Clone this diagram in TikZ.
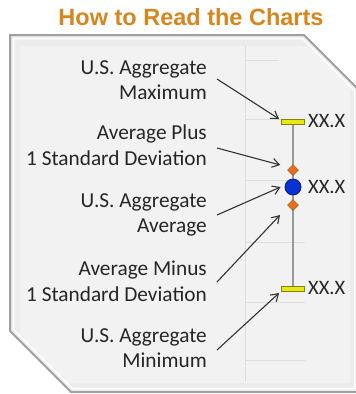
\documentclass[tikz,border=0pt]{standalone}
\usepackage{fontspec}
\setmainfont{Carlito}
\newfontfamily\titlefont{Liberation Sans}
\usetikzlibrary{shapes.geometric,arrows.meta}
\definecolor{titleorange}{RGB}{214,134,30}
\definecolor{panelgray}{RGB}{236,236,236}
\definecolor{plotgray}{RGB}{242,242,242}
\definecolor{bordergray}{RGB}{160,160,160}
\definecolor{gridgray}{RGB}{222,222,222}
\definecolor{baryellow}{RGB}{232,232,20}
\definecolor{barborder}{RGB}{130,130,20}
\definecolor{diaorange}{RGB}{228,110,30}
\definecolor{diaborder}{RGB}{170,80,20}
\definecolor{dotblue}{RGB}{10,50,210}
\definecolor{dotborder}{RGB}{10,30,120}
\tikzset{
  lbl/.style={anchor=east,align=right,inner sep=0pt,font=\fontsize{21.3}{25.5}\selectfont,text=black!85},
  val/.style={anchor=west,inner sep=0pt,font=\fontsize{20.5}{25}\selectfont,text=black!85},
  arr/.style={draw=black!80,line width=1.1pt,-{Straight Barb[length=7pt,width=9pt,line width=1.1pt]}},
  bar/.style={draw=barborder,fill=baryellow,line width=0.8pt,rectangle,minimum width=23pt,minimum height=5.5pt,inner sep=0pt},
  dia/.style={diamond,draw=diaborder,fill=diaorange,line width=0.5pt,minimum width=11pt,minimum height=11pt,inner sep=0pt},
  dot/.style={circle,draw=dotborder,fill=dotblue,line width=0.8pt,minimum size=16pt,inner sep=0pt},
  grid/.style={draw=gridgray,line width=0.8pt}
}
\begin{document}
\begin{tikzpicture}[x=1pt,y=-1pt]
\useasboundingbox (0,0) rectangle (356,394);
% title
\node[font=\titlefont\bfseries\fontsize{23.5}{26}\selectfont,text=titleorange] (title) at (191,17) {How to Read the Charts};
% panel
\fill[panelgray] (10,35) -- (304,35) -- (358,89) -- (358,392) -- (71,392) -- (10,331) -- cycle;
\begin{scope}
\clip (14,39) -- (302,39) -- (354,91) -- (354,388) -- (73,388) -- (14,329) -- cycle;
\fill[plotgray] (20,46) rectangle (350,383);
\end{scope}
\draw[white,line width=1.5pt] (13.5,38.5) -- (302.5,38.5) -- (354.5,90.5) -- (354.5,388.5) -- (72.5,388.5) -- (13.5,329.5) -- cycle;
\draw[bordergray,line width=2pt] (10,35) -- (304,35) -- (358,89) -- (358,392) -- (71,392) -- (10,331) -- cycle;
% grid
\draw[grid] (245,46) -- (245,382);
\draw[grid] (245,60) -- (278,60);
\draw[grid] (245,119) -- (282,119);
\draw[grid] (245,180) -- (293,180);
\draw[grid] (245,242) -- (305,242);
\draw[grid] (245,302) -- (305,302);
\draw[grid] (245,360) -- (305,360);
% axis
\coordinate (axtop) at (293,122);
\coordinate (axbot) at (293,289);
\draw[black!40,line width=1.5pt] (axtop) -- (axbot);
% markers
\node[bar] (maxbar) at (293,122) {};
\node[bar] (minbar) at (293,289) {};
\node[dia] (dplus) at (293,170) {};
\node[dia] (dminus) at (293,205) {};
\node[dot] (avg) at (293,187) {};
% values
\node[val] (vmax) at (308,121) {XX.X};
\node[val] (vavg) at (308,187) {XX.X};
\node[val] (vmin) at (308,288) {XX.X};
% labels
\node[lbl] (lmax) at (207,80) {U.S. Aggregate\\Maximum};
\node[lbl] (lplus) at (207,145) {Average Plus\\1 Standard Deviation};
\node[lbl] (lavg) at (207,215) {U.S. Aggregate\\Average};
\node[lbl] (lminus) at (207,281) {Average Minus\\1 Standard Deviation};
\node[lbl] (lmin) at (207,348) {U.S. Aggregate\\Minimum};
% arrows
\coordinate (tminus) at (280,215);
\draw[arr] ([xshift=10pt,yshift=1pt]lmax.east) -- ([xshift=-2pt,yshift=3pt]maxbar.west);
\draw[arr] ([xshift=10pt,yshift=-3pt]lplus.east) -- ([xshift=-7pt,yshift=5pt]dplus.west);
\draw[arr] ([xshift=10pt]lavg.east) -- ([xshift=-4pt]avg.west);
\draw[arr] ([xshift=10pt,yshift=-1pt]lminus.east) -- (tminus);
\draw[arr] ([xshift=10pt,yshift=-2pt]lmin.east) -- ([xshift=-2pt,yshift=-4pt]minbar.west);
\end{tikzpicture}
\end{document}
